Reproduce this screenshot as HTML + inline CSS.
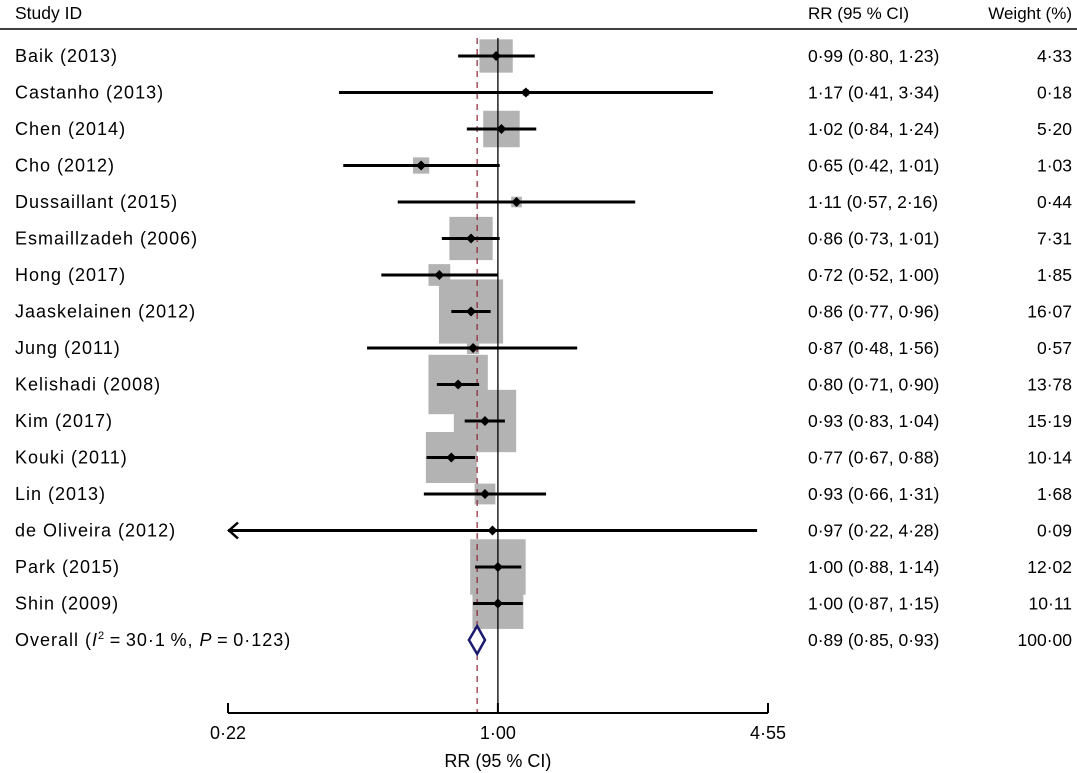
<!DOCTYPE html>
<html><head><meta charset="utf-8"><style>
html,body{margin:0;padding:0;background:#fff}
svg{display:block;font-family:"Liberation Sans",Arial,sans-serif}
.lab{font-size:18px;letter-spacing:1px}
</style></head><body>
<svg id="chart" width="1077" height="773" viewBox="0 0 1077 773">
<text x="15" y="19" font-size="17.5">Study ID</text>
<text x="808" y="19" font-size="17">RR (95 % CI)</text>
<text x="1072" y="19" font-size="17" text-anchor="end">Weight (%)</text>
<line x1="0" y1="29" x2="1077" y2="29" stroke="#000" stroke-width="1.5"/>
<g id="marks"></g>
</svg>
<script>
const studies=["Baik (2013)","Castanho (2013)","Chen (2014)","Cho (2012)","Dussaillant (2015)","Esmaillzadeh (2006)","Hong (2017)","Jaaskelainen (2012)","Jung (2011)","Kelishadi (2008)","Kim (2017)","Kouki (2011)","Lin (2013)","de Oliveira (2012)","Park (2015)","Shin (2009)"];
const rr=[0.99,1.17,1.02,0.65,1.11,0.86,0.72,0.86,0.87,0.80,0.93,0.77,0.93,0.97,1.00,1.00];
const lo=[0.80,0.41,0.84,0.42,0.57,0.73,0.52,0.77,0.48,0.71,0.83,0.67,0.66,0.22,0.88,0.87];
const hi=[1.23,3.34,1.24,1.01,2.16,1.01,1.00,0.96,1.56,0.90,1.04,0.88,1.31,4.28,1.14,1.15];
const weights=[4.33,0.18,5.20,1.03,0.44,7.31,1.85,16.07,0.57,13.78,15.19,10.14,1.68,0.09,12.02,10.11];
const overall=[0.89,0.85,0.93];
const overallWeight=100.00;
const ticks=[0.22,1.00,4.55];

const NS="http://www.w3.org/2000/svg";
const g=document.getElementById('marks');
const xMin=0.22,xMax=4.55,px0=228,px1=768;
function X(v){return px0+(Math.log(v)-Math.log(xMin))/(Math.log(xMax)-Math.log(xMin))*(px1-px0);}
function Y(i){return 56+i*36.5;}
function f(n){return n.toFixed(2).replace('.','\u00b7');}
function el(t,a,p){const e=document.createElementNS(NS,t);for(const k in a)e.setAttribute(k,a[k]);(p||g).appendChild(e);return e;}
const yTop=38,yAxis=713,oY=Y(studies.length);

studies.forEach((s,i)=>{
  const side=16*Math.sqrt(weights[i]);const y=Y(i),x=X(rr[i]);
  const b=el('rect',{x:x-side/2,y:y-side/2,width:side,height:side,fill:'#b3b3b3'});
  
  
});
const nl=el('line',{x1:X(1),y1:yTop,x2:X(1),y2:yAxis,stroke:'#000','stroke-width':1.3});


const ol=el('line',{x1:X(overall[0]),y1:yTop,x2:X(overall[0]),y2:yAxis,stroke:'#8b2332','stroke-width':1.2,'stroke-dasharray':'6,5'});



studies.forEach((s,i)=>{
  const y=Y(i);
  const l=Math.max(lo[i],xMin),h=Math.min(hi[i],xMax);
  const ci=el('line',{x1:X(l),y1:y,x2:X(h),y2:y,stroke:'#000','stroke-width':3});
  
  
  if(lo[i]<=xMin+1e-9){
    const a=el('path',{d:`M${X(xMin)+10},${y-8} L${X(xMin)+1},${y} L${X(xMin)+10},${y+8}`,fill:'none',stroke:'#000','stroke-width':2.5});
    
    
  }
  const x=X(rr[i]);
  const d=el('path',{d:`M${x},${y-5} L${x+5},${y} L${x},${y+5} L${x-5},${y} Z`,fill:'#000'});
  
  
  const t=el('text',{x:15,y:y+6,class:'lab'});t.textContent=s;
  
  
  const r=el('text',{x:808,y:y+6,'font-size':17.5});r.textContent=`${f(rr[i])} (${f(lo[i])}, ${f(hi[i])})`;
  
  
  const w=el('text',{x:1072,y:y+6,'font-size':17.5,'text-anchor':'end'});w.textContent=f(weights[i]);
  
  
});
const dm=el('path',{d:`M${X(overall[0])},${oY-14} L${X(overall[2])},${oY} L${X(overall[0])},${oY+14} L${X(overall[1])},${oY} Z`,fill:'#fff',stroke:'#1a1a6e','stroke-width':2.5});


const ot=el('text',{x:15,y:oY+6,class:'lab'});
ot.innerHTML='Overall (<tspan font-style="italic">I</tspan><tspan font-size="11" dy="-7">2</tspan><tspan dy="7">\u2009=\u200930\u00b71\u2009%, </tspan><tspan font-style="italic">P</tspan>\u2009=\u20090\u00b7123)';


const orr=el('text',{x:808,y:oY+6,'font-size':17.5});orr.textContent=`${f(overall[0])} (${f(overall[1])}, ${f(overall[2])})`;


const ow=el('text',{x:1072,y:oY+6,'font-size':17.5,'text-anchor':'end'});ow.textContent=f(overallWeight);


const ax=el('line',{x1:X(xMin),y1:yAxis,x2:X(xMax),y2:yAxis,stroke:'#000','stroke-width':2});


ticks.forEach(v=>{
  const tk=el('line',{x1:X(v),y1:yAxis-10,x2:X(v),y2:yAxis,stroke:'#000','stroke-width':2});
  
  
  const tl=el('text',{x:X(v),y:739,'font-size':18,'text-anchor':'middle'});tl.textContent=f(v);
  
  
});
const at=el('text',{x:X(1),y:767,'font-size':18,'text-anchor':'middle'});at.textContent='RR (95 % CI)';


</script>
</body></html>
